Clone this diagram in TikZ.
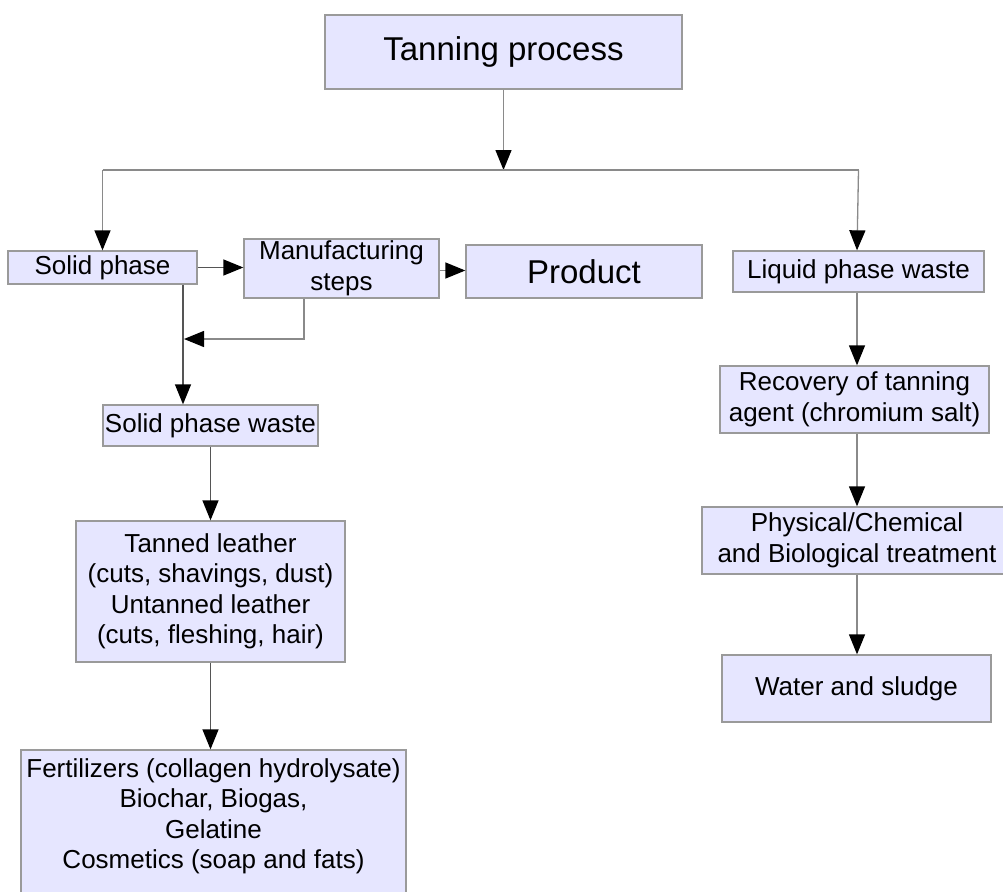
\documentclass[tikz,border=0pt]{standalone}
\usepackage{fontspec}
\setmainfont{Liberation Sans}
\usetikzlibrary{arrows.meta,calc}
\definecolor{boxfill}{HTML}{E6E6FF}
\definecolor{boxline}{HTML}{9A9A9A}
\definecolor{conn}{HTML}{8A8A8A}
\definecolor{conndark}{HTML}{555555}
\begin{document}
\begin{tikzpicture}[x=1pt,y=-1pt,
  box/.style={draw=boxline, fill=boxfill, line width=1.3pt, rectangle, inner sep=0pt,
              align=center, font=\fontsize{26}{30.5}\selectfont, text=black},
  bigtext/.style={font=\fontsize{33}{38}\selectfont},
  arr/.style={draw=conn, line width=1.3pt, -{Triangle[length=20pt,width=16pt,color=black]}},
  ln/.style={draw=conn, line width=1.3pt}]
\useasboundingbox (0,0) rectangle (1003,891);
\clip (0,0) rectangle (1003,891);
\fill[white] (0,0) rectangle (1003,891);

\node[box, bigtext, minimum width=357, minimum height=74] (tan) at (503.5,52) {Tanning process};
\node[box, minimum width=189, minimum height=33] (solid) at (102.5,267.5) {Solid phase};
\node[box, minimum width=195, minimum height=59] (manu) at (341.5,268.5) {Manufacturing\\steps};
\node[box, bigtext, minimum width=236, minimum height=53] (prod) at (584,271.5) {Product};
\node[box, minimum width=251, minimum height=41] (liq) at (858.5,271.5) {Liquid phase waste};
\node[box, minimum width=269, minimum height=67] (rec) at (854.5,399.5) {Recovery of tanning\\agent (chromium salt)};
\node[box, minimum width=310, minimum height=67] (phys) at (857,540.5) {Physical/Chemical\\and Biological treatment};
\node[box, minimum width=269, minimum height=67] (water) at (856.5,688.5) {Water and sludge};
\node[box, minimum width=215, minimum height=41] (spw) at (210.5,425.5) {Solid phase waste};
\node[box, minimum width=269, minimum height=141] (tanl) at (210.5,591.5) {Tanned leather\\(cuts, shavings, dust)\\Untanned leather\\(cuts, fleshing, hair)};
\node[box, minimum width=385, minimum height=150] (fert) at (213.5,825) {};
\node[anchor=north, align=center, inner sep=0pt, font=\fontsize{26}{30.5}\selectfont, text=black]
  (fertText) at ([yshift=-9]fert.north) {Fertilizers (collagen hydrolysate)\\Biochar, Biogas,\\Gelatine\\Cosmetics (soap and fats)};

% top split
\coordinate (junc) at (tan.south |- 0,170);
\coordinate (jl) at (solid.north |- junc);
\coordinate (jr) at (liq.north |- junc);
\draw[arr] (tan.south) -- (junc);
\draw[ln] (jl) -- (jr);
\draw[arr] (jl) -- (solid.north);
\draw[arr] (jr) -- ([xshift=-1.5]liq.north);

% left branch
\draw[arr, draw=conndark] (solid.east) -- (solid.east -| manu.west);
\draw[arr] ([yshift=-2]manu.east) -- ([yshift=-2]manu.east -| prod.west);
\coordinate (sdown) at ([xshift=80.5]solid.south);
\draw[arr, draw=conndark] (sdown) -- (sdown |- spw.north);
\coordinate (mret) at (184,339);
\draw[arr] ([xshift=-37.5]manu.south) |- (mret);
\draw[arr, draw=conndark] (spw.south) -- (spw.south |- tanl.north);
\draw[arr, draw=conndark] (tanl.south) -- (tanl.south |- fert.north);

% right branch
\coordinate (rx) at (857,0);
\draw[arr] (rx |- liq.south) -- (rx |- rec.north);
\draw[arr] (rx |- rec.south) -- (rx |- phys.north);
\draw[arr] (rx |- phys.south) -- (rx |- water.north);
\end{tikzpicture}
\end{document}
